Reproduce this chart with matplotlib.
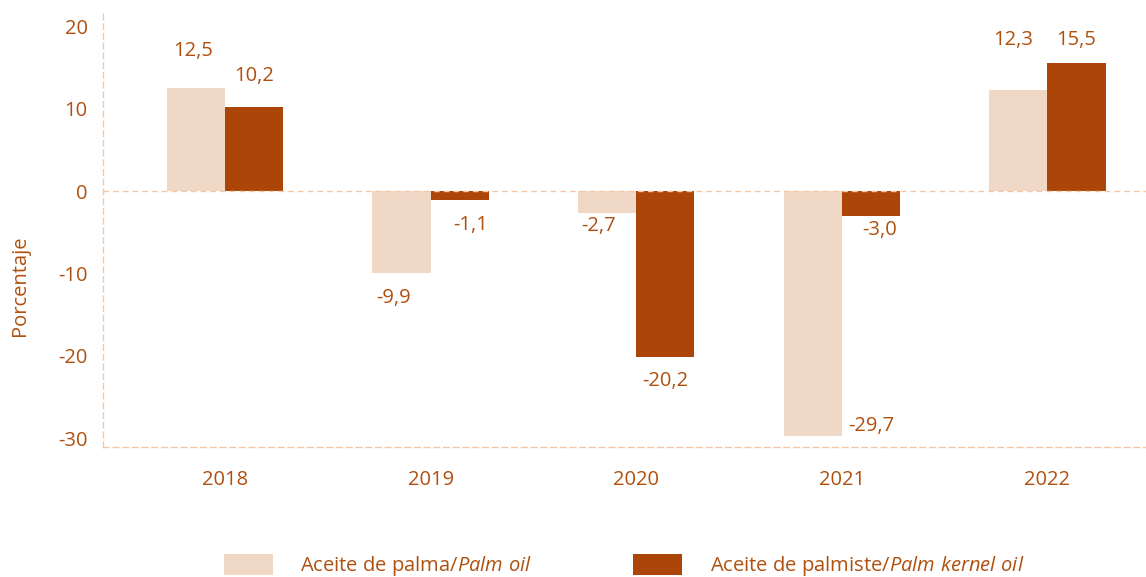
import matplotlib.pyplot as plt
import numpy as np

# Data
years = ["2018", "2019", "2020", "2021", "2022"]
palm_oil = [12.5, -9.9, -2.7, -29.7, 12.3]
palm_kernel_oil = [10.2, -1.1, -20.2, -3.0, 15.5]
palm_labels = ["12,5", "-9,9", "-2,7", "-29,7", "12,3"]
kernel_labels = ["10,2", "-1,1", "-20,2", "-3,0", "15,5"]

# label offsets in points (dx, dy) from bar end
palm_offsets = [(-2, 26.5), (-6, -18), (-6, -9), (42, 7), (-4, 36)]
kernel_offsets = [(0, 22), (8, -18), (0, -17), (6, -10), (0, 16.5)]

LIGHT = "#F0D8C7"
DARK = "#AC4608"
TEXT = "#B0500F"
GRID = "#F5C7A5"

plt.rcParams['font.family'] = ['Open Sans', 'DejaVu Sans']
plt.rcParams['axes.unicode_minus'] = False
plt.rcParams['mathtext.fontset'] = 'custom'
plt.rcParams['mathtext.rm'] = 'Open Sans'
plt.rcParams['mathtext.it'] = 'Open Sans:italic'

FS = 14.5

fig = plt.figure(figsize=(11.46, 5.77), dpi=100)
ax = fig.add_axes([103 / 1146, 1 - 446.5 / 577, 1 - 103 / 1146, (446.5 - 13) / 577])

x = np.arange(len(years))
w = 0.283
b1 = ax.bar(x - w / 2, palm_oil, w, color=LIGHT, label="Aceite de palma/$\\it{Palm\\ oil}$")
b2 = ax.bar(x + w / 2, palm_kernel_oil, w, color=DARK, label="Aceite de palmiste/$\\it{Palm\\ kernel\\ oil}$")

for bars, labels, offs in [(b1, palm_labels, palm_offsets), (b2, kernel_labels, kernel_offsets)]:
    for bar, lab, (dx, dy) in zip(bars, labels, offs):
        ax.annotate(lab, (bar.get_x() + bar.get_width() / 2, bar.get_height()),
                    xytext=(dx, dy), textcoords="offset points",
                    ha="center", va="center", color=TEXT, fontsize=FS)

ax.axhline(0, color=GRID, linestyle=(0, (4, 3)), linewidth=1)
ax.set_ylim(-31, 21.6)
ax.set_xlim(-0.594, 4.48)
ax.set_yticks([20, 10, 0, -10, -20, -30])
ax.set_xticks(x)
ax.set_xticklabels(years)

for s in ["top", "right"]:
    ax.spines[s].set_visible(False)
for s in ["left", "bottom"]:
    ax.spines[s].set_color(GRID)
    ax.spines[s].set_linestyle((0, (4, 3)))
    ax.spines[s].set_linewidth(1)

ax.tick_params(axis="both", length=0, labelsize=FS, labelcolor=TEXT)
ax.tick_params(axis="y", pad=11)
ax.tick_params(axis="x", pad=17)

fig.text(20 / 1146, 1 - 286 / 577, "Porcentaje", rotation=90, ha="center", va="center",
         color=TEXT, fontsize=FS)

leg = fig.legend(loc="center", bbox_to_anchor=(624 / 1146, 1 - 566 / 577), ncol=2,
                 frameon=False, fontsize=FS, handlelength=2.44, handleheight=1.2,
                 handletextpad=1.35, columnspacing=5.0)
for t in leg.get_texts():
    t.set_color(TEXT)

fig.savefig("out.png", dpi=100)
